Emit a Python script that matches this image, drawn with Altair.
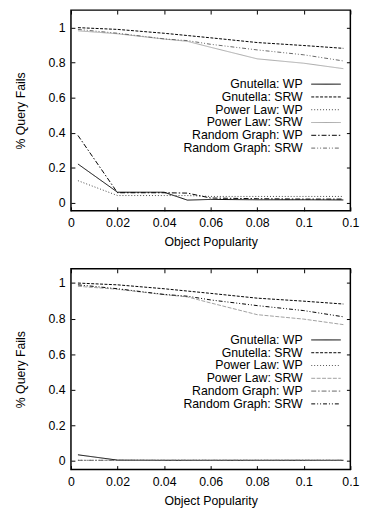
import altair as alt
import pandas as pd

x_vals = [0.003, 0.02, 0.04, 0.05, 0.06, 0.08, 0.1, 0.117]
series = ["Gnutella: WP", "Gnutella: SRW", "Power Law: WP",
          "Power Law: SRW", "Random Graph: WP", "Random Graph: SRW"]

# top panel
top_gnutella_wp = [0.222, 0.061, 0.061, 0.016, 0.02, 0.018, 0.018, 0.017]
top_gnutella_srw = [1.0, 0.99, 0.968, 0.955, 0.942, 0.915, 0.898, 0.882]
top_power_wp = [0.127, 0.042, 0.042, 0.042, 0.037, 0.037, 0.037, 0.037]
top_power_srw = [0.982, 0.965, 0.935, 0.922, 0.888, 0.822, 0.797, 0.766]
top_random_wp = [0.385, 0.058, 0.058, 0.056, 0.028, 0.024, 0.022, 0.022]
top_random_srw = [0.99, 0.968, 0.936, 0.926, 0.905, 0.873, 0.845, 0.81]

# bottom panel
bot_gnutella_wp = [0.033, 0.003, 0.002, 0.002, 0.002, 0.002, 0.002, 0.002]
bot_gnutella_srw = [1.0, 0.99, 0.968, 0.955, 0.942, 0.915, 0.898, 0.882]
bot_power_wp = [0.002, 0.002, 0.002, 0.002, 0.002, 0.002, 0.002, 0.002]
bot_power_srw = [0.982, 0.965, 0.935, 0.922, 0.888, 0.822, 0.797, 0.766]
bot_random_wp = [0.002, 0.002, 0.002, 0.002, 0.002, 0.002, 0.002, 0.002]
bot_random_srw = [0.99, 0.968, 0.936, 0.926, 0.905, 0.873, 0.845, 0.81]

x_ticks = [0, 0.02, 0.04, 0.06, 0.08, 0.1, 0.12]
y_ticks = [0, 0.2, 0.4, 0.6, 0.8, 1]

FONT = "Liberation Sans"
FS = 12.5
W, H = 284, 204


def frame(cols):
    rows = []
    for name, vals in zip(series, cols):
        for xv, yv in zip(x_vals, vals):
            rows.append({"x": xv, "y": yv, "series": name})
    return pd.DataFrame(rows)


xs = alt.Scale(domain=[0, 0.12], nice=False, zero=False)

common_axis = dict(domain=False, grid=False, tickSize=alt.ExprRef(expr="-4"),
                   tickColor="black", tickWidth=1, labelFlush=False,
                   labelFont=FONT, labelFontSize=FS, labelOverlap=False,
                   labelColor="black", titleFont=FONT, titleFontSize=FS,
                   titleFontWeight="normal", titleColor="black", format="~g")


def panel(df, colors, dashes, ydom, legend_y):
    ys = alt.Scale(domain=ydom, nice=False, zero=False)
    legend = alt.Legend(title=None, orient="none", legendX=253, legendY=legend_y,
                        symbolType="M-5,0H5", symbolSize=36, symbolStrokeWidth=1,
                        labelFont=FONT, labelFontSize=FS, labelColor="black",
                        labelAlign="right", labelOffset=alt.ExprRef(expr="-30"),
                        rowPadding=alt.ExprRef(expr="-0.8"), padding=0, labelLimit=300)
    lines = alt.Chart(df).mark_line(strokeWidth=1).encode(
        x=alt.X("x:Q", scale=xs, title="Object Popularity",
                axis=alt.Axis(orient="bottom", values=x_ticks, labelPadding=10,
                              titlePadding=7, **common_axis)),
        y=alt.Y("y:Q", scale=ys, title="% Query Fails",
                axis=alt.Axis(orient="left", values=y_ticks, labelPadding=10,
                              titlePadding=21, **common_axis)),
        color=alt.Color("series:N", sort=series,
                        scale=alt.Scale(domain=series, range=colors), legend=legend),
        strokeDash=alt.StrokeDash("series:N", sort=series,
                                  scale=alt.Scale(domain=series, range=dashes),
                                  legend=legend),
    )
    mirror = alt.Chart(df).mark_point(opacity=0).encode(
        x=alt.X("x:Q", scale=xs, title=None,
                axis=alt.Axis(orient="top", values=x_ticks, labels=False,
                              minExtent=0, maxExtent=0, **common_axis)),
        y=alt.Y("y:Q", scale=ys, title=None,
                axis=alt.Axis(orient="right", values=y_ticks, labels=False,
                              minExtent=0, maxExtent=0, **common_axis)),
    )
    return alt.layer(lines, mirror).resolve_scale(
        x="independent", y="independent").properties(width=W, height=H)


top_df = frame([top_gnutella_wp, top_gnutella_srw, top_power_wp,
                top_power_srw, top_random_wp, top_random_srw])
bot_df = frame([bot_gnutella_wp, bot_gnutella_srw, bot_power_wp,
                bot_power_srw, bot_random_wp, bot_random_srw])

top_colors = ["#000000", "#000000", "#444444", "#a8a8a8", "#000000", "#666666"]
top_dashes = [[1, 0], [3, 1.5], [1, 2], [1, 0], [5, 2, 1.5, 2], [4, 2, 1, 2, 1, 2]]
bot_colors = ["#000000", "#000000", "#555555", "#a0a0a0", "#666666", "#000000"]
bot_dashes = [[1, 0], [3, 1.5], [1, 2], [4, 1.5], [5, 2, 1.5, 2], [4, 2, 1, 2, 1, 2]]

chart = alt.vconcat(
    panel(top_df, top_colors, top_dashes, [-0.045, 1.1], 69),
    panel(bot_df, bot_colors, bot_dashes, [-0.05, 1.08], 66),
    spacing=18,
).resolve_scale(color="independent", strokeDash="independent").resolve_legend(
    color="independent", strokeDash="independent"
).properties(
    padding={"left": 5, "top": -4, "right": 12, "bottom": 0}
).configure_view(stroke="black", strokeWidth=1.5)

chart.save("out.html", embed_options={"renderer": "svg", "actions": False})
